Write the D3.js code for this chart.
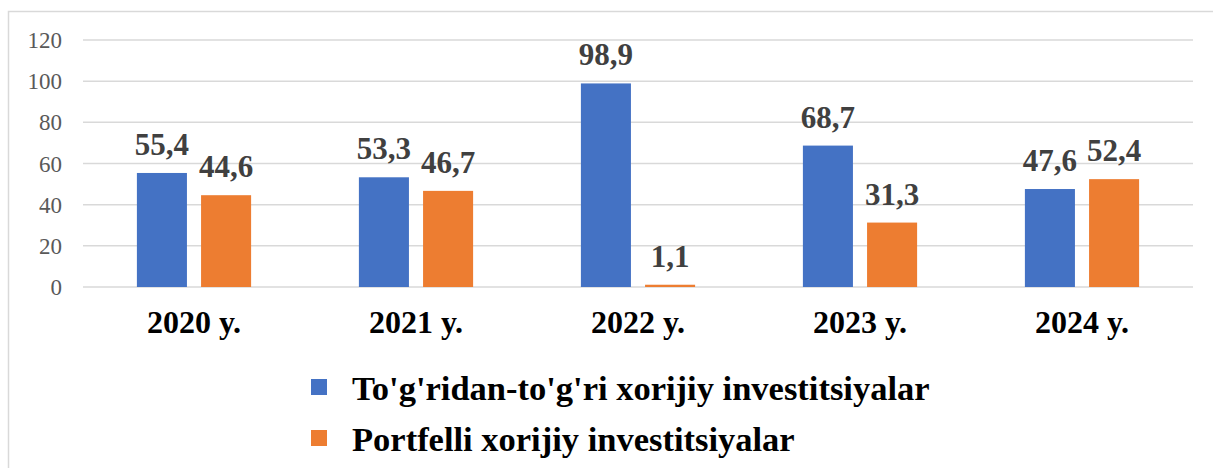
<!DOCTYPE html>
<html>
<head>
<meta charset="utf-8">
<script src="https://cdn.jsdelivr.net/npm/d3@7"></script>
<style>
  body { margin: 0; background: #fff; }
  svg { display: block; }
</style>
</head>
<body>
<svg width="1213" height="468"></svg>
<script>
// chart data
var years = ["2020 y.", "2021 y.", "2022 y.", "2023 y.", "2024 y."];
var seriesNames = ["To'g'ridan-to'g'ri xorijiy investitsiyalar", "Portfelli xorijiy investitsiyalar"];
var directValues = [55.4, 53.3, 98.9, 68.7, 47.6];
var portfolioValues = [44.6, 46.7, 1.1, 31.3, 52.4];
var yTicks = [0, 20, 40, 60, 80, 100, 120];
var colors = ["#4472c4", "#ed7d31"];

var svg = d3.select("svg");
var serif = "'Liberation Serif', 'Times New Roman', serif";

// outer frame
svg.append("rect")
	.attr("x", 8.5).attr("y", 11.5)
	.attr("width", 1220).attr("height", 470)
	.attr("fill", "none")
	.attr("stroke", "#d9d9d9")
	.attr("stroke-width", 1.5);

var plotLeft = 83, plotRight = 1193, plotTop = 40, plotBottom = 287;

var y = d3.scaleLinear().domain([0, 120]).range([plotBottom, plotTop]);
var x0 = d3.scaleBand().domain(years).range([plotLeft, plotRight]).padding(0);
var x1 = d3.scaleBand().domain([0, 1]).range([0, x0.bandwidth()])
	.paddingInner(0.22).paddingOuter(0.84);

// gridlines
svg.append("g").selectAll("line")
	.data(yTicks)
	.join("line")
	.attr("x1", plotLeft).attr("x2", plotRight)
	.attr("y1", function(d){ return y(d); })
	.attr("y2", function(d){ return y(d); })
	.attr("stroke", "#d9d9d9")
	.attr("stroke-width", 1.5);

// y tick labels
svg.append("g").selectAll("text")
	.data(yTicks)
	.join("text")
	.attr("x", 62)
	.attr("y", function(d){ return y(d) + 8; })
	.attr("text-anchor", "end")
	.attr("font-family", serif)
	.attr("font-size", 23)
	.attr("fill", "#595959")
	.text(function(d){ return d; });

var rows = years.map(function(yr, i){
	return { year: yr, vals: [directValues[i], portfolioValues[i]] };
});

var groups = svg.append("g").selectAll("g")
	.data(rows)
	.join("g")
	.attr("transform", function(d){ return "translate(" + x0(d.year) + ",0)"; });

groups.selectAll("rect")
	.data(function(d){ return d.vals.map(function(v, k){ return {k: k, v: v}; }); })
	.join("rect")
	.attr("x", function(d){ return x1(d.k); })
	.attr("width", x1.bandwidth())
	.attr("y", function(d){ return y(d.v); })
	.attr("height", function(d){ return y(0) - y(d.v); })
	.attr("fill", function(d){ return colors[d.k]; });

// value labels
groups.selectAll("text.val")
	.data(function(d){ return d.vals.map(function(v, k){ return {k: k, v: v}; }); })
	.join("text")
	.attr("class", "val")
	.attr("x", function(d){ return x1(d.k) + x1.bandwidth() / 2; })
	.attr("y", function(d){ return y(d.v) - 18; })
	.attr("text-anchor", "middle")
	.attr("font-family", serif)
	.attr("font-weight", "bold")
	.attr("font-size", 31)
	.attr("fill", "#404040")
	.text(function(d){ return String(d.v).replace(".", ","); });

// category labels
svg.append("g").selectAll("text")
	.data(years)
	.join("text")
	.attr("x", function(d){ return x0(d) + x0.bandwidth() / 2; })
	.attr("y", 333)
	.attr("text-anchor", "middle")
	.attr("font-family", serif)
	.attr("font-weight", "bold")
	.attr("font-size", 32)
	.attr("fill", "#000")
	.text(function(d){ return d; });

// legend
var legend = svg.append("g").selectAll("g")
	.data(seriesNames)
	.join("g")
	.attr("transform", function(d, i){ return "translate(311," + (379 + i * 51) + ")"; });

legend.append("rect")
	.attr("width", 16).attr("height", 16)
	.attr("fill", function(d, i){ return colors[i]; });

legend.append("text")
	.attr("x", 41)
	.attr("y", 21)
	.attr("font-family", serif)
	.attr("font-weight", "bold")
	.attr("font-size", 34.5)
	.attr("fill", "#000")
	.text(function(d){ return d; });
</script>
</body>
</html>
